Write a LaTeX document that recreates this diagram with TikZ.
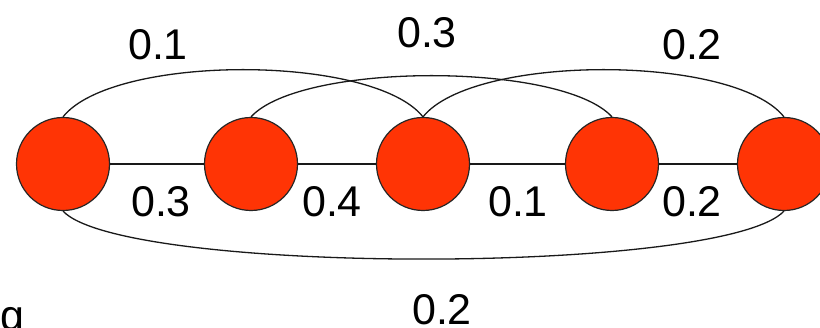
\documentclass[tikz,border=0pt]{standalone}
\usepackage{fontspec}
\setmainfont{Liberation Sans}
\begin{document}
\begin{tikzpicture}[x=1pt,y=-1pt,
  vertex/.style={circle,draw=black!85,line width=1.2pt,fill={rgb,255:red,255;green,52;blue,5},minimum size=93pt,inner sep=0pt},
  link/.style={draw=black!90,line width=1.3pt},
  lab/.style={anchor=base,inner sep=0pt,font=\fontsize{43}{50}\selectfont}]
\clip (0,0) rectangle (820,328);
\fill[white] (0,0) rectangle (820,328);
\node[vertex] (n1) at (63,164) {};
\node[vertex] (n2) at (251,164) {};
\node[vertex] (n3) at (423,164) {};
\node[vertex] (n4) at (612,164) {};
\node[vertex] (n5) at (784,164) {};
\draw[link] (n1.east) -- (n2.west);
\draw[link] (n2.east) -- (n3.west);
\draw[link] (n3.east) -- (n4.west);
\draw[link] (n4.east) -- (n5.west);
\draw[link] (n1.north) .. controls +(50,-63) and +(-50,-63) .. (n3.north);
\draw[link] (n2.north) .. controls +(50,-55) and +(-50,-55) .. (n4.north);
\draw[link] (n3.north) .. controls +(50,-63) and +(-50,-63) .. (n5.north);
\draw[link] (n1.south) .. controls +(60,64) and +(-60,64) .. (n5.south);
\node[lab] (l13) at (158,60) {0.1};
\node[lab] (l24) at (427,48) {0.3};
\node[lab] (l35) at (692,60) {0.2};
\node[lab] (l12) at (161,217) {0.3};
\node[lab] (l23) at (332,217) {0.4};
\node[lab] (l34) at (518,217) {0.1};
\node[lab] (l45) at (692,217) {0.2};
\node[lab] (l15) at (442,325) {0.2};
\node[lab,anchor=base west] (cap) at (0,331) {g};
\end{tikzpicture}
\end{document}
